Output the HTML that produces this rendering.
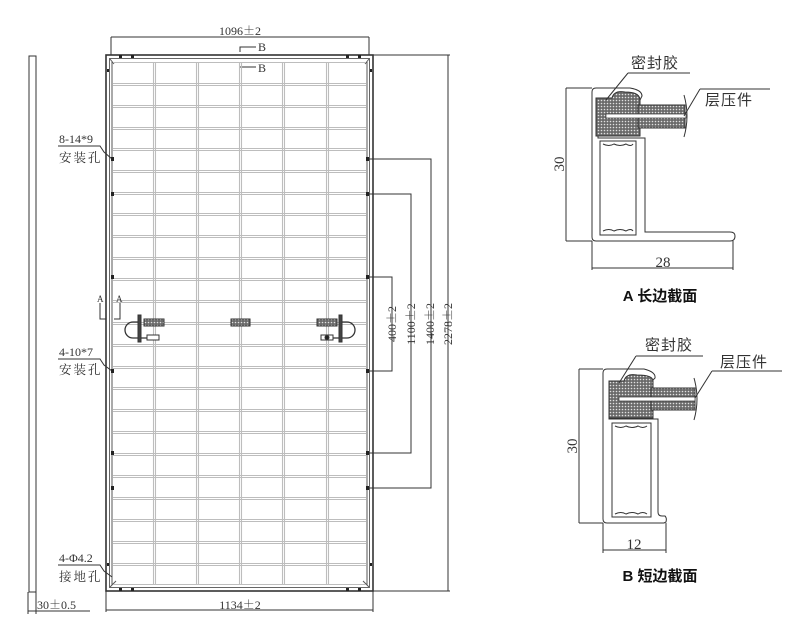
<!DOCTYPE html>
<html><head><meta charset="utf-8"><style>
html,body{margin:0;padding:0;background:#fff;}
svg{display:block;}
text{font-family:"Liberation Serif","Noto Serif CJK SC",serif;fill:#333;}
.pm{font-family:"Noto Serif CJK SC",serif;}
.cj{font-family:"Liberation Sans","Noto Sans CJK SC",sans-serif;}
.cap{font-family:"Liberation Sans","Noto Sans CJK SC",sans-serif;font-weight:bold;fill:#111;}
</style></head><body>
<svg width="795" height="640" viewBox="0 0 795 640" xmlns="http://www.w3.org/2000/svg">
<defs>
<pattern id="dots" width="3" height="3" patternUnits="userSpaceOnUse">
<rect width="3" height="3" fill="#6a6a6a"/><circle cx="1.5" cy="1.5" r="0.8" fill="#e0e0e0"/>
</pattern>
</defs>
<g fill="none" stroke="#333" stroke-width="1">
<rect x="29" y="56" width="7" height="536" fill="#fff"/>
<line x1="28" y1="592" x2="28" y2="614"/>
<line x1="36" y1="592" x2="36" y2="614"/>
<line x1="28" y1="611" x2="90" y2="611"/>
<line x1="111" y1="37" x2="369" y2="37"/>
<line x1="111" y1="37" x2="111" y2="55"/>
<line x1="369" y1="37" x2="369" y2="55"/>
<polyline points="240,52 240,47 256,47"/>
<line x1="240" y1="67" x2="256" y2="67"/>
<line x1="106" y1="591" x2="106" y2="612"/>
<line x1="373" y1="591" x2="373" y2="612"/>
<line x1="106" y1="610" x2="373" y2="610"/>
<rect x="106" y="55" width="267" height="536" stroke-width="1.6"/>
<rect x="109.5" y="58.5" width="260" height="529" stroke="#666"/>
<line x1="112" y1="62" x2="112" y2="585" stroke="#555"/>
<line x1="367" y1="62" x2="367" y2="585" stroke="#555"/>
<line x1="110" y1="59" x2="114" y2="64" stroke="#555"/>
<line x1="369" y1="59" x2="365" y2="64" stroke="#555"/>
<line x1="110" y1="587" x2="116" y2="581" stroke="#555"/>
<line x1="369" y1="587" x2="363" y2="581" stroke="#555"/>
<line x1="373" y1="55" x2="450" y2="55"/>
<line x1="373" y1="591" x2="450" y2="591"/>
<line x1="448" y1="55" x2="448" y2="591"/>
<polyline points="369,159 431,159 431,488 369,488"/>
<polyline points="369,194 411,194 411,453 369,453"/>
<polyline points="369,277 392,277 392,371 369,371"/>
<polyline points="58,146 100,146 104,152 112,159"/>
<polyline points="58,359 100,359 104,365 112,371"/>
<polyline points="58,565 100,565 104,571 112,577"/>
<polyline points="100,303 100,319 106,319"/>
<polyline points="120,303 120,319 114,319"/>
</g>
<g fill="none" stroke="#bdbdbd" stroke-width="1.1">
<path d="M153.5 62V585M155.5 62V585M196.5 62V585M198.5 62V585M239.5 62V585M241.5 62V585M282.5 62V585M284.5 62V585M326.5 62V585M328.5 62V585"/>
<path d="M113 62.5H366M113 83.5H366M113 85.5H366M113 105.5H366M113 107.5H366M113 127.5H366M113 129.5H366M113 148.5H366M113 150.5H366M113 170.5H366M113 172.5H366M113 192.5H366M113 194.5H366M113 213.5H366M113 215.5H366M113 235.5H366M113 237.5H366M113 257.5H366M113 259.5H366M113 278.5H366M113 280.5H366M113 300.5H366M113 302.5H366M113 322.5H366M113 324.5H366M113 344.5H366M113 346.5H366M113 366.5H366M113 368.5H366M113 387.5H366M113 389.5H366M113 409.5H366M113 411.5H366M113 431.5H366M113 433.5H366M113 453.5H366M113 455.5H366M113 475.5H366M113 477.5H366M113 497.5H366M113 499.5H366M113 519.5H366M113 521.5H366M113 541.5H366M113 543.5H366M113 563.5H366M113 565.5H366M113 584.5H366"/>
</g>
<g fill="#222">
<rect x="111" y="157" width="3" height="4"/><rect x="366" y="157" width="3" height="4"/>
<rect x="111" y="192" width="3" height="4"/><rect x="366" y="192" width="3" height="4"/>
<rect x="111" y="275" width="3" height="4"/><rect x="366" y="275" width="3" height="4"/>
<rect x="111" y="369" width="3" height="4"/><rect x="366" y="369" width="3" height="4"/>
<rect x="111" y="451" width="3" height="4"/><rect x="366" y="451" width="3" height="4"/>
<rect x="111" y="486" width="3" height="4"/><rect x="366" y="486" width="3" height="4"/>
<rect x="119" y="55" width="3" height="3"/><rect x="131" y="55" width="3" height="3"/>
<rect x="346" y="55" width="3" height="3"/><rect x="358" y="55" width="3" height="3"/>
<rect x="119" y="588" width="3" height="3"/><rect x="131" y="588" width="3" height="3"/>
<rect x="346" y="588" width="3" height="3"/><rect x="358" y="588" width="3" height="3"/>
<rect x="107" y="69" width="2" height="3"/><rect x="370" y="69" width="2" height="3"/>
<rect x="107" y="563" width="2" height="3"/><rect x="370" y="563" width="2" height="3"/>
</g>
<g stroke="#333" stroke-width="1">
<rect x="144" y="319" width="20" height="7" fill="url(#dots)"/>
<rect x="231" y="319" width="19" height="7" fill="url(#dots)"/>
<rect x="317" y="319" width="20" height="7" fill="url(#dots)"/>
<path d="M140 322H133A8 8 0 0 0 133 338H156" fill="none" stroke-width="1.3"/>
<path d="M340 322H347A8 8 0 0 1 347 338H326" fill="none" stroke-width="1.3"/>
<rect x="138" y="315" width="3" height="27" fill="#444"/>
<rect x="339" y="315" width="3" height="27" fill="#444"/>
<rect x="147" y="335" width="12" height="5" fill="#fff"/>
<rect x="321" y="335" width="12" height="5" fill="#fff"/>
<circle cx="327" cy="337.5" r="2" fill="#222"/>
</g>
<g font-size="12">
<text x="240" y="35" text-anchor="middle">1096<tspan class="pm">±</tspan>2</text>
<text x="258" y="51">B</text>
<text x="258" y="72">B</text>
<text x="240" y="609" text-anchor="middle">1134<tspan class="pm">±</tspan>2</text>
<text x="37" y="609">30<tspan class="pm">±</tspan>0.5</text>
<text x="59" y="143">8-14*9</text>
<text x="59" y="356">4-10*7</text>
<text x="59" y="562">4-Φ4.2</text>
<text x="97" y="302" font-size="9">A</text>
<text x="116" y="302" font-size="9">A</text>
<text transform="translate(396,324) rotate(-90)" text-anchor="middle">400<tspan class="pm">±</tspan>2</text>
<text transform="translate(415,324) rotate(-90)" text-anchor="middle">1100<tspan class="pm">±</tspan>2</text>
<text transform="translate(434,324) rotate(-90)" text-anchor="middle">1400<tspan class="pm">±</tspan>2</text>
<text transform="translate(452,324) rotate(-90)" text-anchor="middle">2278<tspan class="pm">±</tspan>2</text>
</g>
<g font-size="12.5" fill="#444">
<text x="59" y="162" letter-spacing="2" style="font-family:'Noto Serif CJK SC',serif">安装孔</text>
<text x="59" y="374" letter-spacing="2" style="font-family:'Noto Serif CJK SC',serif">安装孔</text>
<text x="59" y="581" letter-spacing="2" style="font-family:'Noto Serif CJK SC',serif">接地孔</text>
</g>

<g stroke="#333" stroke-width="1" fill="none">
<line x1="566" y1="88" x2="592" y2="88"/><line x1="566" y1="241" x2="592" y2="241"/>
<line x1="566" y1="88" x2="566" y2="241"/>
<line x1="592" y1="241" x2="592" y2="270"/><line x1="733" y1="241" x2="733" y2="270"/>
<line x1="592" y1="268" x2="733" y2="268"/>
<path d="M592 92Q592 88 596 88H630Q642 90 642 96L640 100H598V138H645V232H730Q735 232 735 236Q735 241 730 241H596Q592 241 592 237Z" fill="#fff"/>
<path d="M600 141H636V235H600Z"/>
<path d="M603 144Q609 147 614 144Q620 147 626 144Q631 147 633 144"/>
<path d="M603 231Q609 228 614 231Q620 228 626 231Q631 228 633 231"/>
<path d="M596 98H612Q614 90 625 92Q640 92 640 100V136H596Z" fill="url(#dots)"/>
<rect x="638" y="105" width="47" height="23" fill="url(#dots)"/>
<rect x="606" y="114" width="80" height="4" fill="#fff" stroke-width="0.7"/>
<path d="M684 95Q690 116 684 137"/>
<polyline points="628,73 690,73"/><line x1="628" y1="73" x2="606" y2="100"/>
<polyline points="700,89 770,89"/><line x1="700" y1="89" x2="684" y2="116"/>
</g>
<text x="663" y="267" text-anchor="middle" font-size="15">28</text>
<text transform="translate(564,164) rotate(-90)" text-anchor="middle" font-size="15">30</text>
<text x="631" y="68" class="cj" font-size="15" fill="#333" letter-spacing="1">密封胶</text>
<text x="705" y="105" class="cj" font-size="15" fill="#333" letter-spacing="1">层压件</text>
<text x="660" y="301" text-anchor="middle" class="cap" font-size="15">A 长边截面</text>

<g stroke="#333" stroke-width="1" fill="none">
<line x1="579" y1="369" x2="603" y2="369"/><line x1="579" y1="523" x2="603" y2="523"/>
<line x1="579" y1="369" x2="579" y2="523"/>
<line x1="603" y1="523" x2="603" y2="553"/><line x1="666" y1="523" x2="666" y2="553"/>
<line x1="603" y1="550" x2="666" y2="550"/>
<path d="M603 373Q603 369 607 369H644Q656 372 655 378L652 381H609V419H658V512Q658 516 662 516H665Q667 518 666 522L664 523H607Q603 523 603 519Z" fill="#fff"/>
<path d="M612 423H651V517H612Z"/>
<path d="M615 426Q621 429 626 426Q632 429 638 426Q643 429 647 426"/>
<path d="M615 514Q621 511 626 514Q632 511 638 514Q643 511 647 514"/>
<path d="M609 381H624Q626 373 637 375Q653 375 653 381V418H609Z" fill="url(#dots)"/>
<rect x="651" y="388" width="44" height="22" fill="url(#dots)"/>
<rect x="619" y="397" width="76" height="4" fill="#fff" stroke-width="0.7"/>
<path d="M694 378Q700 399 694 420"/>
<polyline points="636,356 703,356"/><line x1="636" y1="356" x2="619" y2="383"/>
<polyline points="712,371 782,371"/><line x1="712" y1="371" x2="695" y2="398"/>
</g>
<text x="634" y="549" text-anchor="middle" font-size="15">12</text>
<text transform="translate(577,446) rotate(-90)" text-anchor="middle" font-size="15">30</text>
<text x="645" y="350" class="cj" font-size="15" fill="#333" letter-spacing="1">密封胶</text>
<text x="720" y="367" class="cj" font-size="15" fill="#333" letter-spacing="1">层压件</text>
<text x="660" y="581" text-anchor="middle" class="cap" font-size="15">B 短边截面</text>
</svg>
</body></html>
